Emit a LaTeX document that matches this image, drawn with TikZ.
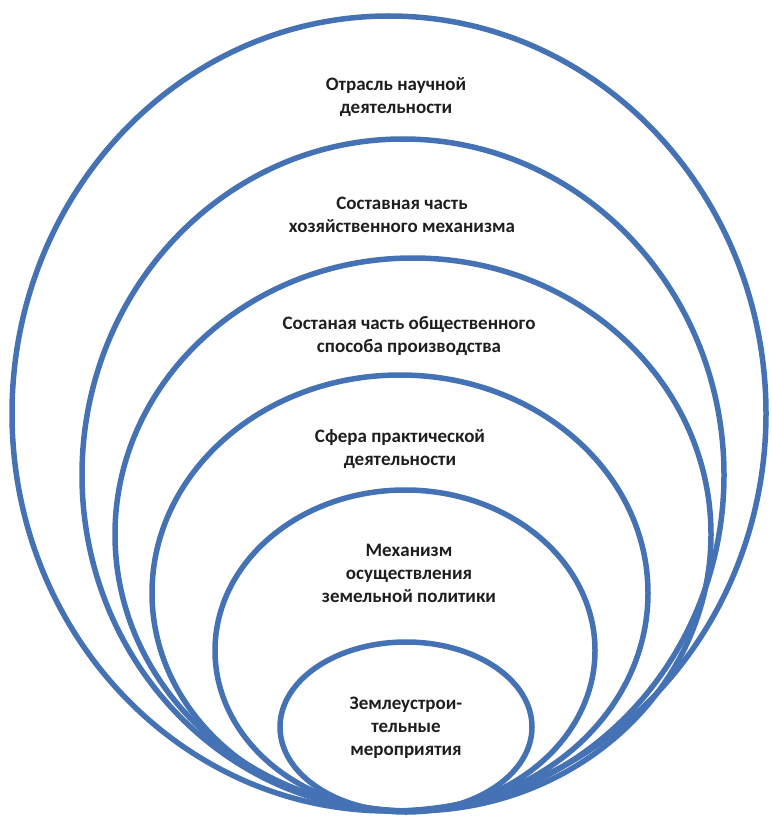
\documentclass[tikz,border=0pt]{standalone}
\usepackage{fontspec}
\setmainfont{Carlito}
\usepackage{tikz}
\usetikzlibrary{shapes.geometric}
\definecolor{cRing}{RGB}{68,114,180}
\definecolor{cText}{RGB}{30,30,30}

\begin{document}
\begin{tikzpicture}[x=1pt, y=-1pt,
    ring/.style={draw=cRing, line width=5.5pt, ellipse, inner sep=0pt, outer sep=0pt},
    lbl/.style={align=center, text=cText, font=\bfseries\fontsize{19}{23}\selectfont}]
    \useasboundingbox (0,0) rectangle (771,821);

    % Rings, outer to inner
    \node[ring, minimum width=754pt, minimum height=795pt] (ring1) at (389, 413.5) {};
    \node[ring, minimum width=642pt, minimum height=672pt] (ring2) at (403, 475) {};
    \node[ring, minimum width=596pt, minimum height=553pt] (ring3) at (413, 534.5) {};
    \node[ring, minimum width=496pt, minimum height=436pt] (ring4) at (400, 593) {};
    \node[ring, minimum width=380pt, minimum height=321pt] (ring5) at (405, 650.5) {};
    \node[ring, minimum width=252pt, minimum height=170pt] (ring6) at (406, 727) {};

    % Labels
    \node[lbl] (lbl1) at (396, 97) {Отрасль научной\\деятельности};
    \node[lbl] (lbl2) at (402, 215) {Составная часть\\хозяйственного механизма};
    \node[lbl] (lbl3) at (409, 336) {Состаная часть общественного\\способа производства};
    \node[lbl] (lbl4) at (400, 449) {Сфера практической\\деятельности};
    \node[lbl] (lbl5) at (409, 573) {Механизм\\осуществления\\земельной политики};
    \node[lbl] (lbl6) at (406, 728) {Землеустрои-\\тельные\\мероприятия};
\end{tikzpicture}
\end{document}
